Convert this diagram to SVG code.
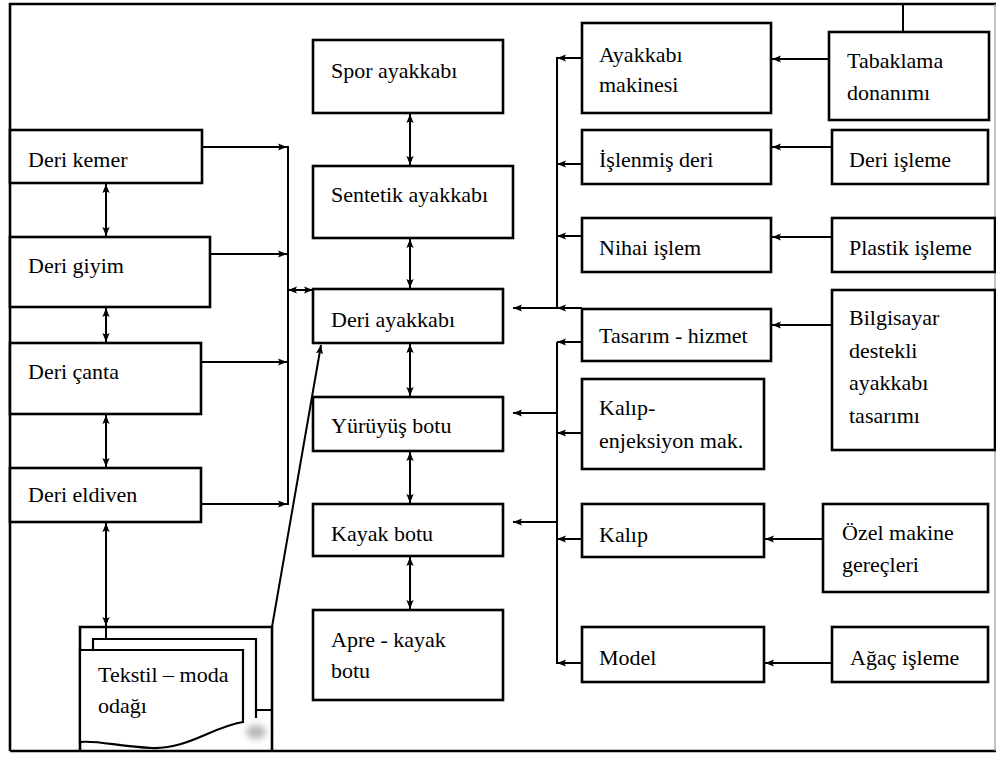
<svg xmlns="http://www.w3.org/2000/svg" width="996" height="758" viewBox="0 0 996 758">
  <style>
    .box { fill: #fff; stroke: #000; stroke-width: 2.6; }
    .frame { fill: none; stroke: #000; stroke-width: 2.6; }
    .page { fill: #fff; stroke: #000; stroke-width: 2.2; }
    .wire { fill: none; stroke: #000; stroke-width: 2; }
    .lbl { font-family: 'Liberation Serif', 'DejaVu Serif', serif; font-size: 22px; fill: #000; }
  </style>
  <defs>
    <marker id="ah" viewBox="0 0 10 8" refX="10" refY="4" markerWidth="9" markerHeight="7.5" markerUnits="userSpaceOnUse" orient="auto-start-reverse">
      <path d="M0,0 L10,4 L0,8 L2,4 Z" fill="#000"/>
    </marker>
    <filter id="soft" x="-50%" y="-50%" width="200%" height="200%">
      <feGaussianBlur stdDeviation="3"/>
    </filter>
  </defs>

  <rect width="996" height="758" fill="#fff"/>

  <!-- outer frame -->
  <g id="frame">
    <path class="frame" d="M10,751 V4 H996"/>
    <path class="frame" d="M10,751 H996"/>
    <path d="M995,4 V751" fill="none" stroke="#9a9a9a" stroke-width="1.2"/>
  </g>

  <!-- connectors -->
  <g id="connectors">
    <!-- left column to collector line -->
    <path class="wire" d="M202,147 H287" marker-end="url(#ah)"/>
    <path class="wire" d="M210,254 H287" marker-end="url(#ah)"/>
    <path class="wire" d="M201,362 H287" marker-end="url(#ah)"/>
    <path class="wire" d="M201,504 H287" marker-end="url(#ah)"/>
    <path class="wire" d="M288,146 V505"/>
    <path class="wire" d="M288,290 H313" marker-start="url(#ah)" marker-end="url(#ah)"/>

    <!-- left column vertical links -->
    <path class="wire" d="M106,184 V236" marker-start="url(#ah)" marker-end="url(#ah)"/>
    <path class="wire" d="M106,308 V342" marker-start="url(#ah)" marker-end="url(#ah)"/>
    <path class="wire" d="M106,415 V467" marker-start="url(#ah)" marker-end="url(#ah)"/>
    <path class="wire" d="M106,523 V626" marker-start="url(#ah)" marker-end="url(#ah)"/>
    <path class="wire" d="M106,626 V639"/>

    <!-- textile focus to leather shoe -->
    <path class="wire" d="M272,627 L321,345" marker-end="url(#ah)"/>

    <!-- central column vertical links -->
    <path class="wire" d="M410,114 V165" marker-start="url(#ah)" marker-end="url(#ah)"/>
    <path class="wire" d="M410,239 V288" marker-start="url(#ah)" marker-end="url(#ah)"/>
    <path class="wire" d="M410,344 V396" marker-start="url(#ah)" marker-end="url(#ah)"/>
    <path class="wire" d="M410,452 V503" marker-start="url(#ah)" marker-end="url(#ah)"/>
    <path class="wire" d="M410,557 V609" marker-start="url(#ah)" marker-end="url(#ah)"/>

    <!-- upper supply bus -->
    <path class="wire" d="M557,57 V308"/>
    <path class="wire" d="M582,58 H557" marker-end="url(#ah)"/>
    <path class="wire" d="M582,164 H557" marker-end="url(#ah)"/>
    <path class="wire" d="M582,236 H557" marker-end="url(#ah)"/>
    <path class="wire" d="M582,308 H557" marker-end="url(#ah)"/>
    <path class="wire" d="M557,308 H513" marker-end="url(#ah)"/>

    <!-- lower supply bus -->
    <path class="wire" d="M557,342 V664"/>
    <path class="wire" d="M582,342 H557" marker-end="url(#ah)"/>
    <path class="wire" d="M582,433 H557" marker-end="url(#ah)"/>
    <path class="wire" d="M582,539 H557" marker-end="url(#ah)"/>
    <path class="wire" d="M582,663 H557" marker-end="url(#ah)"/>
    <path class="wire" d="M557,413 H513" marker-end="url(#ah)"/>
    <path class="wire" d="M557,522 H513" marker-end="url(#ah)"/>

    <!-- right column to inputs -->
    <path class="wire" d="M903,4 V32"/>
    <path class="wire" d="M829,59 H772" marker-end="url(#ah)"/>
    <path class="wire" d="M832,147 H772" marker-end="url(#ah)"/>
    <path class="wire" d="M832,237 H772" marker-end="url(#ah)"/>
    <path class="wire" d="M832,325 H772" marker-end="url(#ah)"/>
    <path class="wire" d="M823,539 H765" marker-end="url(#ah)"/>
    <path class="wire" d="M832,663 H765" marker-end="url(#ah)"/>
  </g>

  <!-- left column -->
  <g id="deri-kemer">
    <rect class="box" x="10" y="130" width="192" height="53"/>
    <text class="lbl" x="28" y="167">Deri kemer</text>
  </g>
  <g id="deri-giyim">
    <rect class="box" x="10" y="237" width="200" height="70"/>
    <text class="lbl" x="28" y="273">Deri giyim</text>
  </g>
  <g id="deri-canta">
    <rect class="box" x="10" y="343" width="191" height="71"/>
    <text class="lbl" x="28" y="379">Deri çanta</text>
  </g>
  <g id="deri-eldiven">
    <rect class="box" x="10" y="468" width="191" height="54"/>
    <text class="lbl" x="28" y="502">Deri eldiven</text>
  </g>

  <!-- stacked documents -->
  <g id="tekstil-moda">
    <path class="frame" d="M80,751 V627 H272 V751"/>
    <path class="page" d="M93,650 V639 H256 V718"/>
    <path class="wire" d="M256,710 H272"/>
    <ellipse cx="256" cy="732" rx="10" ry="7" fill="#b8b8b8" filter="url(#soft)"/>
    <path class="page" d="M80,650 H243 V722 C212,727 188,749 152,748 C120,747 98,740 80,742 Z"/>
    <text class="lbl" x="98" y="682">Tekstil – moda</text>
    <text class="lbl" x="98" y="713">odağı</text>
  </g>

  <!-- central column -->
  <g id="spor-ayakkabi">
    <rect class="box" x="313" y="40" width="190" height="73"/>
    <text class="lbl" x="331" y="78">Spor ayakkabı</text>
  </g>
  <g id="sentetik-ayakkabi">
    <rect class="box" x="313" y="166" width="200" height="72"/>
    <text class="lbl" x="331" y="202">Sentetik ayakkabı</text>
  </g>
  <g id="deri-ayakkabi">
    <rect class="box" x="313" y="289" width="190" height="54"/>
    <text class="lbl" x="331" y="327">Deri ayakkabı</text>
  </g>
  <g id="yuruyus-botu">
    <rect class="box" x="313" y="397" width="190" height="54"/>
    <text class="lbl" x="331" y="433">Yürüyüş botu</text>
  </g>
  <g id="kayak-botu">
    <rect class="box" x="313" y="504" width="190" height="52"/>
    <text class="lbl" x="331" y="541">Kayak botu</text>
  </g>
  <g id="apre-kayak-botu">
    <rect class="box" x="313" y="610" width="190" height="90"/>
    <text class="lbl" x="331" y="647">Apre - kayak</text>
    <text class="lbl" x="331" y="678">botu</text>
  </g>

  <!-- inputs column -->
  <g id="ayakkabi-makinesi">
    <rect class="box" x="582" y="23" width="189" height="90"/>
    <text class="lbl" x="599" y="62">Ayakkabı</text>
    <text class="lbl" x="599" y="92">makinesi</text>
  </g>
  <g id="islenmis-deri">
    <rect class="box" x="582" y="130" width="189" height="54"/>
    <text class="lbl" x="599" y="167">İşlenmiş deri</text>
  </g>
  <g id="nihai-islem">
    <rect class="box" x="582" y="218" width="189" height="54"/>
    <text class="lbl" x="599" y="255">Nihai işlem</text>
  </g>
  <g id="tasarim-hizmet">
    <rect class="box" x="582" y="309" width="189" height="52"/>
    <text class="lbl" x="599" y="343">Tasarım - hizmet</text>
  </g>
  <g id="kalip-enjeksiyon">
    <rect class="box" x="582" y="379" width="182" height="90"/>
    <text class="lbl" x="599" y="415">Kalıp-</text>
    <text class="lbl" x="599" y="448">enjeksiyon mak.</text>
  </g>
  <g id="kalip">
    <rect class="box" x="582" y="504" width="182" height="53"/>
    <text class="lbl" x="599" y="542">Kalıp</text>
  </g>
  <g id="model">
    <rect class="box" x="582" y="627" width="182" height="55"/>
    <text class="lbl" x="599" y="665">Model</text>
  </g>

  <!-- sources column -->
  <g id="tabaklama-donanimi">
    <rect class="box" x="829" y="32" width="160" height="88"/>
    <text class="lbl" x="847" y="68">Tabaklama</text>
    <text class="lbl" x="847" y="100">donanımı</text>
  </g>
  <g id="deri-isleme">
    <rect class="box" x="832" y="130" width="156" height="54"/>
    <text class="lbl" x="849" y="167">Deri işleme</text>
  </g>
  <g id="plastik-isleme">
    <rect class="box" x="832" y="218" width="163" height="54"/>
    <text class="lbl" x="849" y="255">Plastik işleme</text>
  </g>
  <g id="bilgisayar-destekli">
    <rect class="box" x="832" y="290" width="163" height="160"/>
    <text class="lbl" x="849" y="325">Bilgisayar</text>
    <text class="lbl" x="849" y="358">destekli</text>
    <text class="lbl" x="849" y="390">ayakkabı</text>
    <text class="lbl" x="849" y="423">tasarımı</text>
  </g>
  <g id="ozel-makine">
    <rect class="box" x="823" y="504" width="165" height="88"/>
    <text class="lbl" x="842" y="540">Özel makine</text>
    <text class="lbl" x="842" y="572">gereçleri</text>
  </g>
  <g id="agac-isleme">
    <rect class="box" x="832" y="627" width="156" height="55"/>
    <text class="lbl" x="850" y="665">Ağaç işleme</text>
  </g>
</svg>
